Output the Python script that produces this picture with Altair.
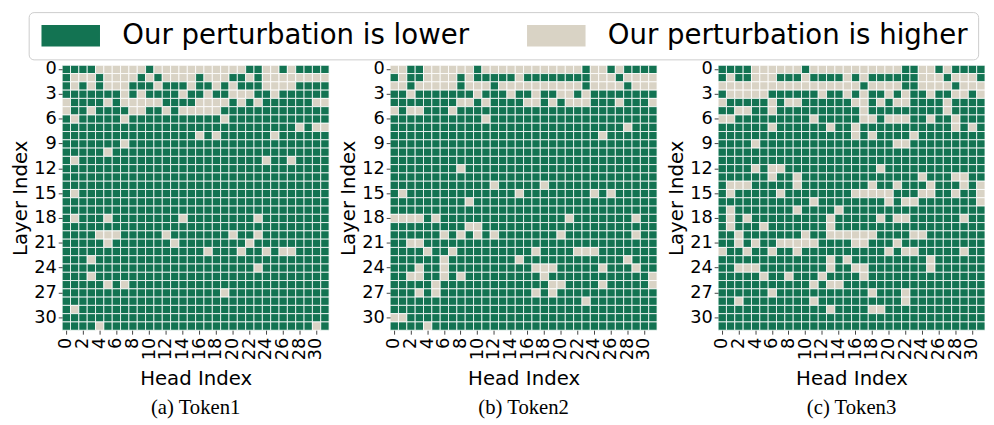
import altair as alt
import pandas as pd

GREEN = "#137352"
BEIGE = "#d9d3c5"
LOWER = "Our perturbation is lower"
HIGHER = "Our perturbation is higher"

captions = ["(a) Token1", "(b) Token2", "(c) Token3"]

# For each layer (row 0..31): head indices where "Our perturbation is higher"
token1_higher = [
    [4, 5, 6, 7, 8, 9, 11, 12, 13, 14, 15, 16, 17, 18, 19, 20, 21, 24, 25, 27],
    [1, 2, 3, 5, 6, 7, 8, 10, 12, 13, 14, 15, 17, 18, 19, 22, 24, 25, 26, 27, 28, 29, 30, 31],
    [1, 3, 5, 6, 7, 11, 15, 18, 20, 24, 25, 26, 27],
    [7, 9, 14, 17, 20, 21, 22, 25],
    [0, 5, 7, 8, 9, 10, 11, 16, 17, 18, 19, 21, 23, 30, 31],
    [0, 3, 8, 9, 12, 14, 15, 16, 17, 18],
    [1, 7, 19],
    [28, 30, 31],
    [16, 18, 25],
    [7],
    [5],
    [1, 24, 27],
    [],
    [],
    [],
    [1],
    [],
    [],
    [1, 5, 14, 23],
    [],
    [4, 5, 6, 12, 20, 23],
    [5, 13, 22],
    [17, 21, 24, 26, 27],
    [3],
    [23],
    [3],
    [5, 7],
    [19],
    [],
    [1],
    [],
    [4, 30],
]

token2_higher = [
    [0, 1, 4, 5, 6, 7, 8, 9, 11, 12, 13, 14, 15, 16, 17, 18, 19, 20, 21, 22, 24, 25, 27],
    [1, 4, 5, 6, 7, 9, 15, 24, 25, 26, 28, 29, 30, 31],
    [0, 1, 3, 4, 5, 6, 7, 9, 10, 11, 13, 14, 15, 16, 17, 18, 19, 20, 21, 22, 24, 25, 26, 27, 29, 30, 31],
    [2, 10, 14, 17, 20, 21, 23],
    [8, 9, 11, 16, 17, 19, 21, 22, 23, 27, 31],
    [0, 2, 3, 7],
    [11],
    [28],
    [25],
    [],
    [],
    [],
    [8],
    [],
    [12, 18],
    [1, 15, 24, 26],
    [9],
    [],
    [0, 1, 2, 3, 5, 21, 29],
    [9, 10],
    [6, 8, 10, 12, 20, 29],
    [2, 3],
    [4, 7, 17, 22, 23, 24],
    [6, 15, 28],
    [3, 6, 17, 18, 19, 25, 29],
    [2, 3, 6, 8, 18, 31],
    [5, 19, 20, 25, 31],
    [3, 5, 17, 19],
    [23],
    [],
    [0, 1],
    [4],
]

token3_higher = [
    [4, 5, 6, 7, 8, 9, 11, 12, 13, 14, 15, 16, 17, 18, 19, 20, 21, 24, 25, 27],
    [1, 4, 5, 6, 10, 15, 17, 24, 25, 26, 28, 29, 30],
    [0, 1, 2, 3, 4, 5, 6, 7, 8, 9, 10, 11, 12, 13, 14, 15, 16, 18, 19, 20, 21, 24, 25, 26, 27, 29, 30, 31],
    [1, 2, 3, 4, 5, 12, 15, 17, 20, 22, 25, 28, 29, 31],
    [0, 6, 8, 9, 16, 17, 19, 21, 22, 27],
    [2, 3, 6, 17, 27],
    [0, 1, 11, 17, 18, 20, 21, 22, 25, 28],
    [6, 13, 16, 28, 30],
    [16, 18, 23],
    [4, 21, 22],
    [],
    [],
    [4, 6, 7, 19],
    [6, 9, 24, 28, 29],
    [1, 2, 3, 9, 18, 21, 25, 29, 31],
    [1, 7, 16, 17, 18, 19, 20, 24, 25, 28, 31],
    [11, 20, 22, 23, 31],
    [1, 9, 14],
    [1, 3, 13, 19, 21, 22, 29],
    [1, 5, 13],
    [2, 10, 13, 14, 15, 16, 17, 18, 23, 24],
    [2, 4, 7, 8, 9, 10, 11, 16, 17, 21],
    [0, 3, 6, 9, 20, 22, 23, 29],
    [13, 15, 25],
    [2, 3, 4, 13, 16, 17, 25],
    [5, 8, 12, 17],
    [11, 13, 14],
    [6, 18, 22],
    [2, 11, 22],
    [13, 18, 19],
    [],
    [],
]

layers = list(range(32))
heads = list(range(32))
y_ticks = list(range(0, 32, 3))
x_ticks = list(range(0, 32, 2))


def build_df(higher):
    rows = []
    for layer in layers:
        for head in heads:
            rows.append({
                "layer": layer,
                "head": head,
                "status": HIGHER if head in higher[layer] else LOWER,
            })
    return pd.DataFrame(rows)


legend = alt.Legend(
    title=None,
    orient="none",
    legendX=-34,
    legendY=-54,
    direction="horizontal",
    symbolType="M-1,-1L4.4,-1L4.4,1L-1,1Z",
    symbolSize=484,
    symbolStrokeWidth=0,
    symbolOpacity=1,
    labelFont="DejaVu Sans",
    labelFontSize=28,
    labelColor="black",
    labelLimit=600,
    labelOffset=57,
    columnPadding=55,
    strokeColor="#cccccc",
    fillColor="white",
    cornerRadius=5,
    padding=10,
)


def panel(higher, caption):
    df = build_df(higher)
    return (
        alt.Chart(
            df,
            title=alt.Title(
                caption,
                orient="bottom",
                font="Liberation Serif",
                fontSize=21,
                fontWeight="normal",
                color="black",
                offset=9,
            ),
        )
        .mark_rect(stroke="white", strokeWidth=0.8)
        .encode(
            x=alt.X(
                "head:O",
                scale=alt.Scale(paddingInner=0, paddingOuter=0),
                axis=alt.Axis(values=x_ticks, labelAngle=270, title="Head Index",
                              labelPadding=3, titlePadding=9),
            ),
            y=alt.Y(
                "layer:O",
                scale=alt.Scale(paddingInner=0, paddingOuter=0),
                axis=alt.Axis(values=y_ticks, labelAngle=0, title="Layer Index",
                              labelPadding=2, titlePadding=3),
            ),
            color=alt.Color(
                "status:N",
                scale=alt.Scale(domain=[LOWER, HIGHER], range=[GREEN, BEIGE]),
                legend=legend,
            ),
        )
        .properties(width=271, height=269)
    )


panels = [
    panel(token1_higher, captions[0]),
    panel(token2_higher, captions[1]),
    panel(token3_higher, captions[2]),
]

chart = (
    alt.hconcat(*panels, spacing=9)
    .properties(padding={"left": 3, "top": 0, "right": 0, "bottom": 0})
    .configure_view(stroke=None)
    .configure_axis(
        labelFont="DejaVu Sans",
        titleFont="DejaVu Sans",
        labelFontSize=18,
        titleFontSize=20,
        labelColor="black",
        titleColor="black",
        titleFontWeight="normal",
        domain=False,
        tickColor="#444444",
        tickSize=4,
        grid=False,
    )
)

chart.save("out.html", embed_options={"renderer": "svg", "actions": False})
